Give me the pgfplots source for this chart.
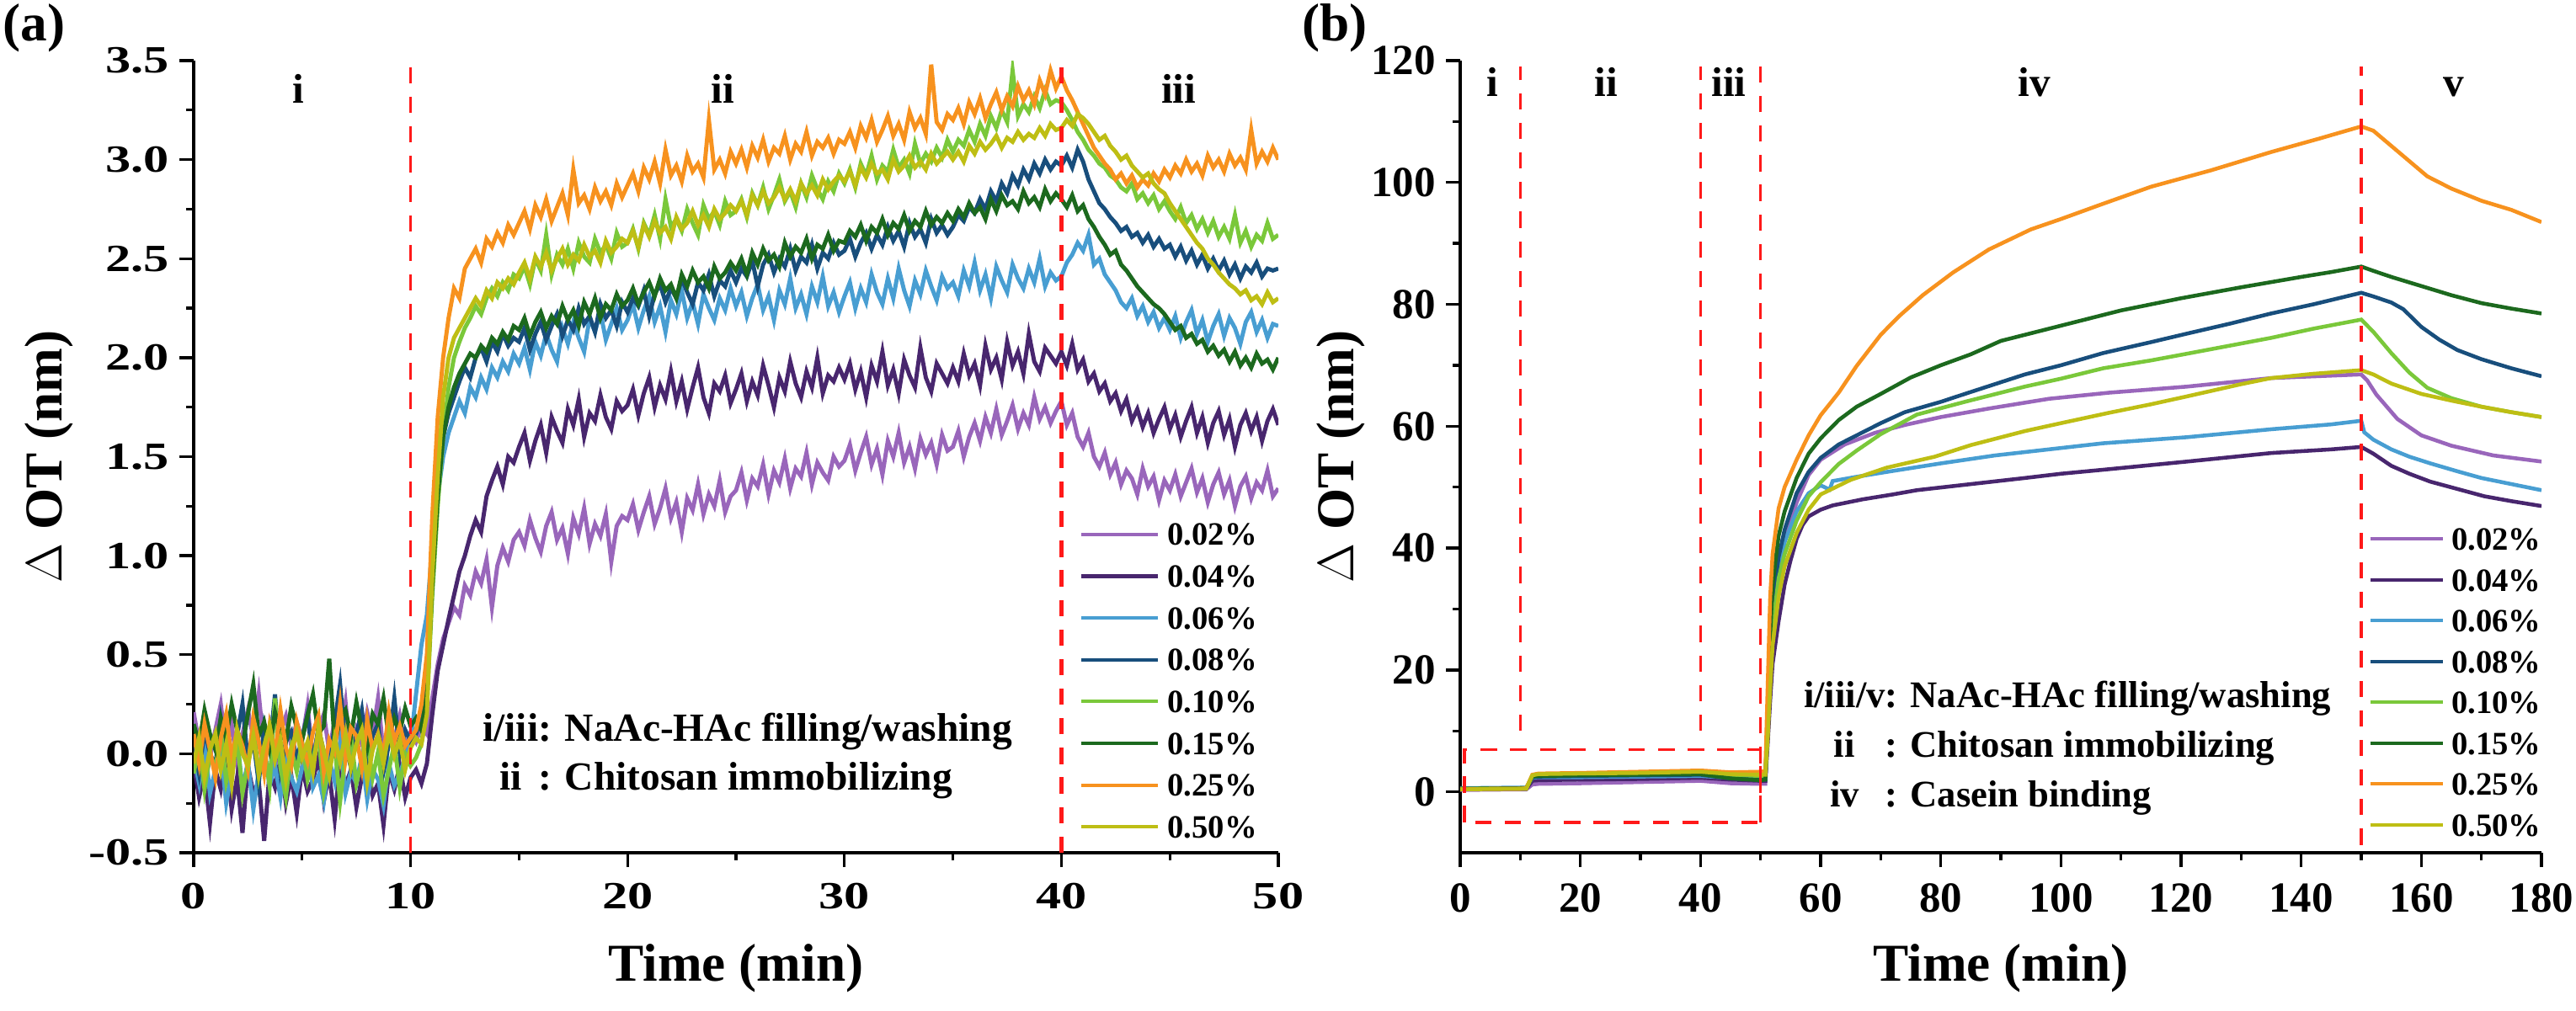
\documentclass[border=0pt]{standalone}
\usepackage{fontspec}
\setmainfont{Liberation Serif}
\newfontfamily\widefont{Liberation Serif}[FakeStretch=1.32]
\usepackage{pgfplots}
\usepackage{pgfplotstable}
\pgfplotsset{compat=1.18}

\definecolor{cA}{RGB}{153,102,187}
\definecolor{cB}{RGB}{72,38,110}
\definecolor{cC}{RGB}{72,158,210}
\definecolor{cD}{RGB}{24,78,124}
\definecolor{cE}{RGB}{122,200,58}
\definecolor{cF}{RGB}{28,105,30}
\definecolor{cG}{RGB}{247,146,30}
\definecolor{cH}{RGB}{190,190,20}
\definecolor{dred}{RGB}{255,25,25}

% Panel (a): one value every 0.25 min, t = 0 ... 50
\pgfplotstableread[row sep=\\]{y\\
0.21\\0.05\\0.18\\-0.02\\0.12\\0.25\\0.03\\0.15\\-0.05\\0.10\\0.22\\0.08\\0.30\\0.02\\0.14\\-0.06\\0.11\\0.19\\0.04\\0.16\\
0.07\\0.24\\-0.03\\0.13\\0.20\\0.01\\0.17\\0.09\\0.26\\-0.04\\0.12\\0.05\\0.21\\0.10\\0.28\\0.00\\0.15\\0.07\\0.19\\0.03\\
0.11\\0.06\\0.14\\0.10\\0.28\\0.45\\0.58\\0.66\\0.74\\0.70\\0.85\\0.80\\0.92\\0.86\\0.98\\0.74\\0.95\\1.04\\0.97\\1.08\\
1.12\\1.05\\1.18\\1.09\\1.02\\1.15\\1.22\\1.08\\1.14\\1.01\\1.19\\1.11\\1.24\\1.06\\1.16\\1.10\\1.21\\0.97\\1.15\\1.20\\
1.18\\1.26\\1.13\\1.22\\1.30\\1.16\\1.24\\1.34\\1.19\\1.27\\1.12\\1.29\\1.23\\1.36\\1.21\\1.31\\1.25\\1.38\\1.22\\1.30\\
1.33\\1.42\\1.28\\1.39\\1.35\\1.46\\1.31\\1.43\\1.37\\1.49\\1.34\\1.44\\1.40\\1.52\\1.36\\1.47\\1.42\\1.38\\1.50\\1.45\\
1.48\\1.56\\1.43\\1.52\\1.60\\1.46\\1.54\\1.41\\1.58\\1.50\\1.62\\1.47\\1.55\\1.44\\1.59\\1.51\\1.57\\1.46\\1.61\\1.53\\
1.55\\1.63\\1.50\\1.60\\1.67\\1.58\\1.70\\1.62\\1.74\\1.61\\1.68\\1.76\\1.64\\1.72\\1.66\\1.80\\1.69\\1.75\\1.67\\1.73\\
1.78\\1.66\\1.72\\1.60\\1.55\\1.62\\1.50\\1.45\\1.52\\1.41\\1.47\\1.36\\1.43\\1.39\\1.31\\1.44\\1.35\\1.40\\1.28\\1.38\\
1.33\\1.41\\1.30\\1.37\\1.44\\1.32\\1.39\\1.27\\1.36\\1.42\\1.31\\1.38\\1.25\\1.35\\1.40\\1.29\\1.37\\1.33\\1.43\\1.30\\
1.34\\
}\dA
\pgfplotstableread[row sep=\\]{y\\
-0.05\\-0.22\\-0.10\\-0.35\\-0.08\\-0.18\\-0.02\\-0.28\\-0.12\\-0.40\\-0.06\\-0.20\\-0.14\\-0.44\\-0.09\\-0.17\\-0.03\\-0.25\\-0.11\\-0.30\\
-0.07\\-0.19\\-0.13\\-0.02\\-0.24\\-0.10\\-0.33\\-0.05\\-0.16\\-0.08\\-0.27\\-0.12\\-0.04\\-0.21\\-0.15\\-0.36\\-0.09\\-0.18\\-0.06\\-0.22\\
-0.12\\-0.08\\-0.15\\-0.05\\0.20\\0.42\\0.55\\0.68\\0.80\\0.92\\1.00\\1.10\\1.18\\1.12\\1.30\\1.38\\1.45\\1.36\\1.50\\1.47\\
1.55\\1.62\\1.48\\1.58\\1.66\\1.52\\1.70\\1.63\\1.57\\1.74\\1.66\\1.79\\1.60\\1.72\\1.68\\1.81\\1.70\\1.64\\1.78\\1.73\\
1.76\\1.84\\1.71\\1.82\\1.90\\1.75\\1.86\\1.79\\1.93\\1.78\\1.88\\1.74\\1.85\\1.95\\1.80\\1.72\\1.87\\1.83\\1.91\\1.77\\
1.84\\1.92\\1.78\\1.88\\1.81\\1.96\\1.86\\1.75\\1.90\\1.83\\1.98\\1.87\\1.80\\1.93\\1.85\\2.00\\1.82\\1.91\\1.88\\1.95\\
1.89\\1.97\\1.84\\1.93\\1.80\\1.96\\1.88\\2.03\\1.86\\1.94\\1.82\\1.99\\1.91\\1.85\\2.05\\1.90\\1.83\\1.97\\1.92\\1.87\\
1.95\\1.88\\2.02\\1.91\\1.97\\1.86\\2.06\\1.94\\2.00\\1.89\\2.08\\1.96\\2.03\\1.92\\2.12\\1.98\\1.93\\2.05\\2.01\\1.97\\
2.03\\1.96\\2.07\\1.94\\1.99\\1.88\\1.92\\1.83\\1.87\\1.78\\1.82\\1.73\\1.79\\1.68\\1.74\\1.65\\1.72\\1.62\\1.69\\1.75\\
1.64\\1.71\\1.60\\1.68\\1.75\\1.62\\1.70\\1.57\\1.67\\1.73\\1.61\\1.69\\1.55\\1.66\\1.72\\1.63\\1.70\\1.58\\1.68\\1.74\\
1.66\\
}\dB
\pgfplotstableread[row sep=\\]{y\\
-0.02\\-0.15\\0.05\\-0.20\\-0.08\\0.02\\-0.25\\-0.10\\0.08\\-0.18\\-0.04\\-0.28\\-0.09\\0.03\\-0.16\\-0.06\\-0.22\\0.00\\-0.12\\-0.19\\
-0.07\\0.04\\-0.17\\-0.11\\-0.24\\-0.03\\-0.14\\0.06\\-0.20\\-0.09\\-0.15\\-0.01\\-0.23\\-0.08\\-0.13\\-0.26\\-0.05\\-0.16\\-0.10\\-0.02\\
0.05\\0.30\\0.55\\0.70\\1.05\\1.30\\1.50\\1.62\\1.70\\1.78\\1.72\\1.85\\1.80\\1.90\\1.84\\1.95\\1.90\\1.98\\1.93\\2.02\\
1.97\\2.05\\1.94\\2.08\\2.01\\2.12\\2.04\\1.98\\2.15\\2.07\\2.18\\2.10\\2.03\\2.20\\2.13\\2.23\\2.09\\2.17\\2.25\\2.14\\
2.19\\2.27\\2.15\\2.24\\2.31\\2.18\\2.26\\2.13\\2.29\\2.22\\2.34\\2.20\\2.28\\2.17\\2.32\\2.25\\2.19\\2.30\\2.24\\2.35\\
2.26\\2.33\\2.21\\2.30\\2.37\\2.24\\2.31\\2.19\\2.34\\2.27\\2.40\\2.25\\2.32\\2.22\\2.36\\2.28\\2.41\\2.26\\2.33\\2.23\\
2.31\\2.38\\2.25\\2.35\\2.28\\2.42\\2.33\\2.27\\2.40\\2.30\\2.45\\2.34\\2.26\\2.39\\2.32\\2.44\\2.36\\2.29\\2.41\\2.35\\
2.38\\2.31\\2.44\\2.36\\2.48\\2.34\\2.42\\2.30\\2.46\\2.39\\2.33\\2.47\\2.40\\2.35\\2.45\\2.38\\2.50\\2.36\\2.43\\2.39\\
2.41\\2.48\\2.52\\2.58\\2.54\\2.62\\2.47\\2.50\\2.42\\2.38\\2.34\\2.28\\2.25\\2.30\\2.21\\2.26\\2.18\\2.23\\2.15\\2.20\\
2.14\\2.21\\2.10\\2.18\\2.24\\2.12\\2.19\\2.08\\2.16\\2.22\\2.11\\2.20\\2.15\\2.07\\2.18\\2.23\\2.13\\2.19\\2.10\\2.17\\
2.16\\
}\dC
\pgfplotstableread[row sep=\\]{y\\
0.05\\-0.10\\0.12\\0.00\\-0.06\\0.18\\0.03\\-0.12\\0.09\\0.25\\-0.04\\0.07\\-0.15\\0.14\\0.02\\0.30\\-0.08\\0.06\\0.11\\-0.03\\
0.08\\0.20\\-0.05\\0.13\\0.01\\-0.11\\0.16\\0.35\\0.04\\-0.07\\0.10\\0.22\\-0.02\\0.09\\0.15\\-0.09\\0.05\\0.28\\0.00\\0.12\\
0.06\\0.10\\0.20\\0.45\\0.90\\1.30\\1.60\\1.72\\1.80\\1.88\\1.95\\1.90\\2.00\\2.05\\1.98\\2.08\\2.03\\2.12\\2.06\\2.10\\
2.08\\2.15\\2.04\\2.12\\2.18\\2.09\\2.16\\2.22\\2.11\\2.19\\2.14\\2.25\\2.17\\2.21\\2.13\\2.27\\2.20\\2.24\\2.16\\2.28\\
2.23\\2.30\\2.26\\2.34\\2.21\\2.32\\2.37\\2.28\\2.35\\2.30\\2.40\\2.33\\2.27\\2.38\\2.34\\2.42\\2.31\\2.39\\2.36\\2.44\\
2.38\\2.45\\2.41\\2.49\\2.36\\2.47\\2.52\\2.43\\2.50\\2.46\\2.55\\2.44\\2.51\\2.48\\2.57\\2.45\\2.53\\2.50\\2.58\\2.52\\
2.54\\2.60\\2.51\\2.58\\2.63\\2.55\\2.62\\2.57\\2.66\\2.59\\2.64\\2.56\\2.68\\2.61\\2.65\\2.58\\2.70\\2.63\\2.67\\2.62\\
2.66\\2.72\\2.69\\2.76\\2.73\\2.80\\2.75\\2.84\\2.79\\2.88\\2.83\\2.92\\2.87\\2.95\\2.90\\2.98\\2.93\\3.00\\2.95\\2.99\\
2.97\\3.02\\2.96\\3.05\\2.99\\2.90\\2.84\\2.78\\2.75\\2.71\\2.68\\2.64\\2.66\\2.61\\2.63\\2.58\\2.62\\2.56\\2.60\\2.55\\
2.57\\2.51\\2.56\\2.49\\2.54\\2.47\\2.52\\2.45\\2.50\\2.44\\2.49\\2.42\\2.47\\2.40\\2.46\\2.43\\2.48\\2.41\\2.45\\2.44\\
2.45\\
}\dD
\pgfplotstableread[row sep=\\]{y\\
-0.10\\0.05\\-0.18\\0.00\\-0.08\\0.12\\-0.14\\-0.02\\0.08\\-0.20\\-0.05\\0.15\\-0.11\\0.03\\-0.16\\0.28\\-0.07\\-0.22\\0.02\\-0.09\\
0.06\\-0.13\\-0.03\\0.10\\-0.19\\-0.06\\0.04\\-0.24\\-0.01\\0.09\\-0.15\\-0.04\\0.07\\-0.12\\0.01\\-0.21\\-0.08\\0.05\\-0.17\\0.00\\
-0.06\\-0.02\\0.05\\0.25\\0.80\\1.25\\1.60\\1.85\\2.00\\2.08\\2.15\\2.20\\2.26\\2.22\\2.30\\2.35\\2.31\\2.38\\2.34\\2.42\\
2.40\\2.46\\2.37\\2.50\\2.44\\2.62\\2.42\\2.52\\2.47\\2.55\\2.45\\2.58\\2.51\\2.48\\2.60\\2.53\\2.57\\2.50\\2.63\\2.56\\
2.58\\2.65\\2.55\\2.68\\2.62\\2.72\\2.60\\2.80\\2.66\\2.70\\2.64\\2.75\\2.68\\2.62\\2.77\\2.70\\2.74\\2.67\\2.79\\2.72\\
2.74\\2.80\\2.71\\2.83\\2.77\\2.86\\2.75\\2.82\\2.90\\2.79\\2.84\\2.76\\2.88\\2.81\\2.92\\2.85\\2.80\\2.89\\2.84\\2.93\\
2.88\\2.95\\2.86\\2.98\\2.92\\3.02\\2.90\\2.97\\2.94\\3.05\\2.96\\3.00\\2.93\\3.08\\2.98\\3.03\\2.99\\3.06\\3.01\\3.10\\
3.04\\3.10\\3.07\\3.15\\3.09\\3.18\\3.12\\3.22\\3.16\\3.25\\3.19\\3.45\\3.22\\3.28\\3.24\\3.32\\3.26\\3.35\\3.28\\3.30\\
3.29\\3.25\\3.20\\3.14\\3.10\\3.05\\3.02\\2.98\\2.96\\2.92\\2.90\\2.86\\2.84\\2.88\\2.80\\2.83\\2.78\\2.82\\2.75\\2.79\\
2.74\\2.70\\2.76\\2.68\\2.72\\2.65\\2.70\\2.63\\2.69\\2.61\\2.66\\2.60\\2.72\\2.58\\2.64\\2.56\\2.62\\2.59\\2.68\\2.60\\
2.62\\
}\dE
\pgfplotstableread[row sep=\\]{y\\
0.15\\0.05\\0.22\\0.10\\0.02\\0.18\\0.08\\0.25\\0.12\\0.04\\0.20\\0.35\\0.09\\0.16\\0.03\\0.21\\0.11\\0.06\\0.24\\0.13\\
0.07\\0.19\\0.30\\0.10\\0.14\\0.48\\0.05\\0.17\\0.22\\0.09\\0.26\\0.12\\0.03\\0.20\\0.15\\0.28\\0.08\\0.18\\0.11\\0.23\\
0.14\\0.18\\0.12\\0.30\\0.85\\1.30\\1.60\\1.75\\1.85\\1.92\\1.97\\2.02\\2.00\\2.06\\2.03\\2.10\\2.07\\2.13\\2.09\\2.16\\
2.14\\2.20\\2.11\\2.18\\2.23\\2.15\\2.21\\2.17\\2.26\\2.19\\2.24\\2.16\\2.28\\2.22\\2.30\\2.20\\2.27\\2.24\\2.32\\2.26\\
2.29\\2.35\\2.27\\2.33\\2.38\\2.31\\2.40\\2.34\\2.37\\2.30\\2.42\\2.36\\2.44\\2.38\\2.41\\2.35\\2.46\\2.40\\2.43\\2.48\\
2.44\\2.50\\2.42\\2.53\\2.47\\2.55\\2.49\\2.52\\2.46\\2.58\\2.51\\2.56\\2.53\\2.60\\2.50\\2.57\\2.55\\2.62\\2.54\\2.59\\
2.58\\2.64\\2.61\\2.67\\2.59\\2.66\\2.63\\2.70\\2.62\\2.68\\2.65\\2.72\\2.64\\2.69\\2.66\\2.74\\2.67\\2.71\\2.68\\2.73\\
2.69\\2.75\\2.71\\2.78\\2.73\\2.76\\2.70\\2.80\\2.74\\2.82\\2.77\\2.79\\2.75\\2.84\\2.78\\2.81\\2.76\\2.85\\2.79\\2.83\\
2.80\\2.76\\2.82\\2.74\\2.77\\2.70\\2.66\\2.61\\2.57\\2.52\\2.54\\2.47\\2.44\\2.40\\2.36\\2.33\\2.30\\2.27\\2.25\\2.22\\
2.18\\2.14\\2.16\\2.10\\2.12\\2.07\\2.09\\2.03\\2.06\\2.01\\2.04\\1.98\\2.03\\1.96\\2.00\\1.95\\2.02\\1.97\\1.99\\1.94\\
2.00\\
}\dF
\pgfplotstableread[row sep=\\]{y\\
0.10\\-0.05\\0.15\\0.02\\-0.12\\0.08\\0.20\\-0.02\\0.12\\0.04\\-0.08\\0.18\\0.06\\-0.10\\0.14\\0.00\\0.22\\0.03\\-0.06\\0.16\\
0.05\\-0.04\\0.11\\0.19\\-0.09\\0.07\\0.01\\0.25\\-0.03\\0.13\\0.09\\-0.07\\0.17\\0.02\\0.10\\-0.01\\0.21\\0.06\\0.14\\0.04\\
0.08\\0.12\\0.25\\0.50\\1.20\\1.70\\2.00\\2.20\\2.35\\2.30\\2.45\\2.50\\2.55\\2.48\\2.60\\2.56\\2.63\\2.58\\2.67\\2.62\\
2.68\\2.74\\2.65\\2.77\\2.71\\2.80\\2.69\\2.76\\2.83\\2.72\\2.95\\2.78\\2.82\\2.75\\2.86\\2.79\\2.84\\2.77\\2.88\\2.81\\
2.87\\2.93\\2.84\\2.96\\2.90\\2.99\\2.88\\3.05\\2.92\\2.97\\2.89\\3.02\\2.94\\2.98\\2.91\\3.20\\2.95\\3.00\\2.93\\3.04\\
2.98\\3.05\\2.96\\3.07\\3.01\\3.10\\2.99\\3.06\\3.03\\3.12\\3.00\\3.08\\3.04\\3.14\\3.02\\3.09\\3.06\\3.11\\3.03\\3.10\\
3.08\\3.14\\3.06\\3.17\\3.11\\3.20\\3.09\\3.15\\3.22\\3.12\\3.18\\3.10\\3.24\\3.16\\3.21\\3.13\\3.48\\3.19\\3.15\\3.23\\
3.20\\3.26\\3.18\\3.29\\3.23\\3.31\\3.21\\3.28\\3.34\\3.25\\3.32\\3.27\\3.37\\3.30\\3.35\\3.28\\3.40\\3.33\\3.45\\3.36\\
3.42\\3.35\\3.30\\3.24\\3.18\\3.12\\3.06\\3.02\\2.98\\2.95\\2.90\\2.93\\2.88\\2.92\\2.86\\2.90\\2.87\\2.93\\2.89\\2.95\\
2.91\\2.97\\2.93\\3.00\\2.94\\2.98\\2.92\\3.02\\2.96\\3.00\\2.94\\3.03\\2.97\\3.01\\2.95\\3.15\\2.98\\3.04\\2.99\\3.06\\
3.00\\
}\dG
\pgfplotstableread[row sep=\\]{y\\
-0.05\\0.08\\-0.12\\0.02\\0.10\\-0.08\\0.05\\-0.15\\0.12\\0.00\\-0.06\\0.09\\-0.10\\0.04\\0.14\\-0.03\\0.07\\-0.13\\0.03\\0.11\\
-0.02\\0.06\\-0.09\\0.13\\0.01\\-0.11\\0.08\\-0.04\\0.10\\-0.07\\0.05\\0.12\\-0.14\\0.02\\0.09\\-0.05\\0.11\\-0.01\\0.07\\-0.08\\
0.03\\0.08\\0.05\\0.20\\0.90\\1.40\\1.80\\2.00\\2.10\\2.15\\2.20\\2.25\\2.30\\2.26\\2.34\\2.30\\2.38\\2.35\\2.40\\2.37\\
2.43\\2.48\\2.40\\2.51\\2.46\\2.53\\2.44\\2.50\\2.55\\2.47\\2.52\\2.49\\2.57\\2.51\\2.54\\2.48\\2.59\\2.53\\2.56\\2.60\\
2.58\\2.64\\2.56\\2.67\\2.61\\2.69\\2.63\\2.66\\2.60\\2.71\\2.65\\2.68\\2.74\\2.67\\2.72\\2.66\\2.75\\2.70\\2.73\\2.77\\
2.74\\2.79\\2.72\\2.82\\2.77\\2.84\\2.78\\2.81\\2.86\\2.80\\2.85\\2.79\\2.88\\2.83\\2.87\\2.82\\2.90\\2.85\\2.89\\2.92\\
2.89\\2.94\\2.87\\2.96\\2.91\\2.98\\2.93\\2.95\\2.90\\3.00\\2.94\\2.97\\3.02\\2.96\\2.99\\2.95\\3.03\\2.98\\3.01\\3.04\\
3.00\\3.04\\2.99\\3.07\\3.03\\3.09\\3.05\\3.08\\3.12\\3.06\\3.11\\3.09\\3.14\\3.10\\3.13\\3.11\\3.16\\3.12\\3.18\\3.15\\
3.16\\3.20\\3.17\\3.23\\3.21\\3.18\\3.14\\3.10\\3.12\\3.07\\3.04\\3.00\\3.02\\2.97\\2.94\\2.91\\2.93\\2.88\\2.85\\2.83\\
2.78\\2.74\\2.70\\2.66\\2.62\\2.58\\2.55\\2.50\\2.47\\2.43\\2.40\\2.37\\2.35\\2.32\\2.34\\2.29\\2.31\\2.27\\2.33\\2.28\\
2.30\\
}\dH

\pgfplotsset{
  panel/.style={
    scale only axis, height=9.41cm,
    axis x line=bottom, axis y line=left,
    axis line style={-, line width=0.95pt, black},
    every tick/.style={line width=0.95pt, black},
    tick align=outside,
    major tick length=0.17cm, minor tick length=0.09cm,
    /pgf/number format/assume math mode=true,
    label style={font=\fontsize{18}{20}\selectfont},
    xlabel={Time (min)},
    ylabel={$\Delta$ OT (nm)},
    xlabel style={at={(axis description cs:0.5,-0.146)}, anchor=center},
    xticklabel style={yshift=-0.07cm},
    legend cell align=left,
    legend entries={0.02\%,0.04\%,0.06\%,0.08\%,0.10\%,0.15\%,0.25\%,0.50\%},
  },
}

\begin{document}
\bfseries
\begin{tikzpicture}
\useasboundingbox (0,0) rectangle (30.59,12);

% ---------------- panel (a) ----------------
\begin{axis}[panel,
  at={(2.30cm,1.87cm)}, anchor=south west, width=12.88cm,
  xmin=0, xmax=50, ymin=-0.5, ymax=3.5,
  xtick={0,10,20,30,40,50}, minor x tick num=1,
  ytick={-0.5,0,0.5,1,1.5,2,2.5,3,3.5}, minor y tick num=1,
  tick label style={font=\widefont\bfseries\fontsize{13}{15}\selectfont},
  yticklabel style={/pgf/number format/fixed, /pgf/number format/fixed zerofill, /pgf/number format/precision=1},
  ylabel style={at={(axis description cs:-0.1335,0.5)}, anchor=center},
  legend style={draw=none, fill=none, at={(0.817,0.416)}, anchor=north west,
    inner sep=0pt, outer sep=0pt, row sep=6.63pt, column sep=2.6pt,
    font=\fontsize{11}{13}\selectfont,
    nodes={inner sep=0pt, text height=7.5pt, text depth=0pt}},
  legend image code/.code={\draw[#1, line width=1.2pt] (0cm,0cm) -- (0.91cm,0cm);},
]
\addplot[cA, line width=1.4pt] table[x expr=\coordindex*0.25, y=y] {\dA};
\addplot[cB, line width=1.4pt] table[x expr=\coordindex*0.25, y=y] {\dB};
\addplot[cC, line width=1.4pt] table[x expr=\coordindex*0.25, y=y] {\dC};
\addplot[cD, line width=1.4pt] table[x expr=\coordindex*0.25, y=y] {\dD};
\addplot[cE, line width=1.4pt] table[x expr=\coordindex*0.25, y=y] {\dE};
\addplot[cF, line width=1.4pt] table[x expr=\coordindex*0.25, y=y] {\dF};
\addplot[cG, line width=1.4pt] table[x expr=\coordindex*0.25, y=y] {\dG};
\addplot[cH, line width=1.4pt] table[x expr=\coordindex*0.25, y=y] {\dH};
\draw[dred, line width=1pt, dash pattern=on 5.5pt off 4.5pt] (axis cs:10,-0.5) -- (axis cs:10,3.5);
\draw[dred, line width=1.5pt, dash pattern=on 5.5pt off 4.5pt] (axis cs:40,-0.5) -- (axis cs:40,3.5);
\node[anchor=base, font=\fontsize{14}{16}\selectfont] at (axis cs:4.83,3.285) {i};
\node[anchor=base, font=\fontsize{14}{16}\selectfont] at (axis cs:24.4,3.285) {ii};
\node[anchor=base, font=\fontsize{14}{16}\selectfont] at (axis cs:45.4,3.285) {iii};
\node[anchor=west, inner sep=0pt, font=\fontsize{13.5}{16.7}\selectfont] at (axis cs:13.3,-0.01)
  {\begin{tabular}{@{}c@{}l@{}}i/iii&: NaAc-HAc filling/washing\\ ii&: Chitosan immobilizing\end{tabular}};
\end{axis}

% ---------------- panel (b) ----------------
\begin{axis}[panel,
  at={(17.34cm,1.87cm)}, anchor=south west, width=12.84cm,
  xmin=0, xmax=180, ymin=-10, ymax=120,
  xtick={0,20,...,180}, minor x tick num=1,
  ytick={0,20,...,120}, minor y tick num=1,
  tick label style={font=\fontsize{14.5}{16}\selectfont},
  ylabel style={at={(axis description cs:-0.110,0.5)}, anchor=center},
  legend style={draw=none, fill=none, at={(0.84,0.41)}, anchor=north west,
    inner sep=0pt, outer sep=0pt, row sep=6.3pt, column sep=2.4pt,
    font=\fontsize{11}{13}\selectfont,
    nodes={inner sep=0pt, text height=7.5pt, text depth=0pt}},
  legend image code/.code={\draw[#1, line width=1.2pt] (0cm,0cm) -- (0.86cm,0cm);},
]
\addplot[cA, line width=1.3pt] coordinates {(0,0.3)(10,0.4)(11,0.4)(12,1.2)(13,1.3)(20,1.4)(30,1.6)(40,1.8)(45,1.4)(50,1.3)(50.8,1.3)(51.2,10)(51.6,20)(52,28)(53,36)(54,41)(56,47.5)(58,52)(60,54.5)(64,57)(69,58.9)(74,60.2)(80,61.5)(88,62.9)(98,64.5)(108,65.5)(121,66.5)(135,67.9)(145,68.3)(150,68.5)(151,67.5)(152.5,65.2)(156,61.2)(160,58.5)(165,56.8)(172,55.2)(180,54.2)};
\addplot[cB, line width=1.3pt] coordinates {(0,0.4)(10,0.5)(11,0.5)(12,1.8)(13,1.9)(20,2.0)(30,2.1)(40,2.3)(45,2.0)(50,1.8)(50.8,1.8)(51.2,8)(51.6,15)(52,21)(53,28)(54,34)(55,38)(56,41.5)(57,43.8)(58,45.2)(60,46.3)(62,47)(67,48)(72,48.8)(76,49.5)(85,50.5)(94,51.5)(100,52.2)(107.5,52.9)(121,54.2)(135,55.6)(145,56.2)(150,56.6)(152,55.5)(155,53.5)(158,52.2)(161.5,50.9)(166,49.7)(170.5,48.5)(175,47.7)(180,46.9)};
\addplot[cC, line width=1.3pt] coordinates {(0,0.6)(10,0.7)(11,0.7)(12,2.3)(13,2.4)(20,2.4)(30,2.5)(40,2.6)(45,2.3)(50,2.2)(50.8,2.2)(51.2,11)(51.6,21)(52,29)(53,36)(54,41)(56,46)(58,49)(60,50.3)(61.5,49.6)(62,51)(66,51.7)(71,52.5)(80,53.9)(89,55.2)(98,56.2)(107,57.2)(121,58.2)(135,59.5)(145,60.3)(150,60.9)(150.5,59)(152,57.8)(155,56.2)(158,55)(161.5,53.9)(166,52.6)(170,51.5)(175,50.5)(180,49.5)};
\addplot[cD, line width=1.3pt] coordinates {(0,0.5)(10,0.6)(11,0.6)(12,2.4)(13,2.5)(20,2.6)(30,2.7)(40,2.8)(45,2.2)(50,2.0)(50.8,2.0)(51.2,12)(51.6,23)(52,31)(53,38.5)(54,43)(56,49)(58,52.5)(60,54.8)(63,57)(67,59)(70,60.5)(74,62.3)(80,64)(84,65.3)(94,68.5)(100,70)(107,72)(115,73.8)(121,75.2)(128,76.8)(135,78.5)(142,80)(150,81.9)(152,81.3)(155,80.3)(157,79.2)(160,76.3)(163,74.2)(166,72.5)(170,71)(175,69.5)(180,68.2)};
\addplot[cE, line width=1.3pt] coordinates {(0,0.5)(10,0.6)(11,0.6)(12,2.6)(13,2.8)(20,2.9)(30,3.0)(40,3.3)(45,2.8)(50,2.6)(50.8,2.6)(51.2,10)(51.6,20)(52,27)(53,35)(54,39)(56,44.5)(58,48.5)(60,50.8)(63,53.8)(66,56)(70,58.7)(76,61.9)(84,64)(94,66.5)(100,67.8)(107,69.5)(115,70.8)(121,71.9)(128,73.2)(135,74.5)(142,76)(150,77.5)(152,75.5)(155,72)(158,68.8)(161,66.3)(165,64.6)(170,63.2)(175,62.3)(180,61.5)};
\addplot[cF, line width=1.3pt] coordinates {(0,0.5)(10,0.6)(11,0.6)(12,2.5)(13,2.6)(20,2.7)(30,2.8)(40,2.9)(45,2.2)(50,1.9)(50.8,2.0)(51.2,14)(51.6,26)(52,34)(53,42)(54,46)(56,51.5)(58,55.5)(60,58)(63,61)(66,63.2)(70,65.3)(75,68)(80,70)(85,71.8)(90,74)(100,76.5)(110,79)(120,81)(130,82.8)(140,84.5)(145,85.3)(150,86.2)(152,85.5)(155,84.5)(160,83)(165,81.5)(170,80.2)(175,79.3)(180,78.5)};
\addplot[cG, line width=1.3pt] coordinates {(0,0.4)(5,0.5)(10,0.5)(11,0.6)(12,2.8)(13,3.0)(20,3.1)(30,3.3)(40,3.5)(45,3.2)(50,3.3)(50.8,3.4)(51.2,18)(51.6,32)(52,39)(53,46.5)(54,50)(56,54.5)(58,58.5)(60,61.8)(63,65.5)(66,69.9)(70,75)(73,78)(77,81.5)(82,85.2)(88,89)(95,92.3)(100,94)(107,96.5)(115,99.3)(125,102)(135,105)(143,107.2)(150,109.2)(152,108.5)(155,106)(158,103.5)(161,101)(165,99)(170,97)(175,95.5)(180,93.5)};
\addplot[cH, line width=1.3pt] coordinates {(0,0.4)(10,0.5)(11,0.5)(12,2.7)(13,2.9)(20,3.0)(30,3.1)(40,3.3)(45,2.9)(50,2.8)(50.8,2.8)(51.2,9)(51.6,17)(52,24)(53,32)(54,37)(56,42.5)(58,46.3)(60,48.8)(65,51.2)(71,53.2)(79,55)(85,56.9)(94,59.2)(100,60.5)(108,62.2)(115,63.6)(121,64.9)(130,66.9)(135,67.9)(142,68.6)(150,69.2)(152,68.5)(155,67)(160,65.3)(165,64.2)(170,63.2)(175,62.3)(180,61.5)};
\draw[dred, line width=1pt, dash pattern=on 5.5pt off 4.5pt] (axis cs:10,10) -- (axis cs:10,119);
\draw[dred, line width=1pt, dash pattern=on 5.5pt off 4.5pt] (axis cs:40,10) -- (axis cs:40,119);
\draw[dred, line width=1pt, dash pattern=on 5.5pt off 4.5pt] (axis cs:50,-5) -- (axis cs:50,119);
\draw[dred, line width=1pt, dash pattern=on 5.5pt off 4.5pt] (axis cs:150,-8.7) -- (axis cs:150,119);
\draw[dred, line width=1pt, dash pattern=on 5.5pt off 4.5pt] (axis cs:0.7,-5) rectangle (axis cs:50,6.9);
\node[anchor=base, font=\fontsize{14}{16}\selectfont] at (axis cs:5.4,114.1) {i};
\node[anchor=base, font=\fontsize{14}{16}\selectfont] at (axis cs:24.3,114.1) {ii};
\node[anchor=base, font=\fontsize{14}{16}\selectfont] at (axis cs:44.7,114.1) {iii};
\node[anchor=base, font=\fontsize{14}{16}\selectfont] at (axis cs:95.6,114.1) {iv};
\node[anchor=base, font=\fontsize{14}{16}\selectfont] at (axis cs:165.4,114.1) {v};
\node[anchor=west, inner sep=0pt, font=\fontsize{12.7}{16.7}\selectfont] at (axis cs:57.1,7.3)
  {\begin{tabular}{@{}c@{}l@{}}i/iii/v&: NaAc-HAc filling/washing\\ ii&: Chitosan immobilizing\\ iv&: Casein binding\end{tabular}};
\end{axis}

\node[anchor=north west, inner sep=0pt, font=\fontsize{18}{20}\selectfont] at (0.03,11.96) {(a)};
\node[anchor=north west, inner sep=0pt, font=\fontsize{18}{20}\selectfont] at (15.46,11.96) {(b)};
\end{tikzpicture}
\end{document}
